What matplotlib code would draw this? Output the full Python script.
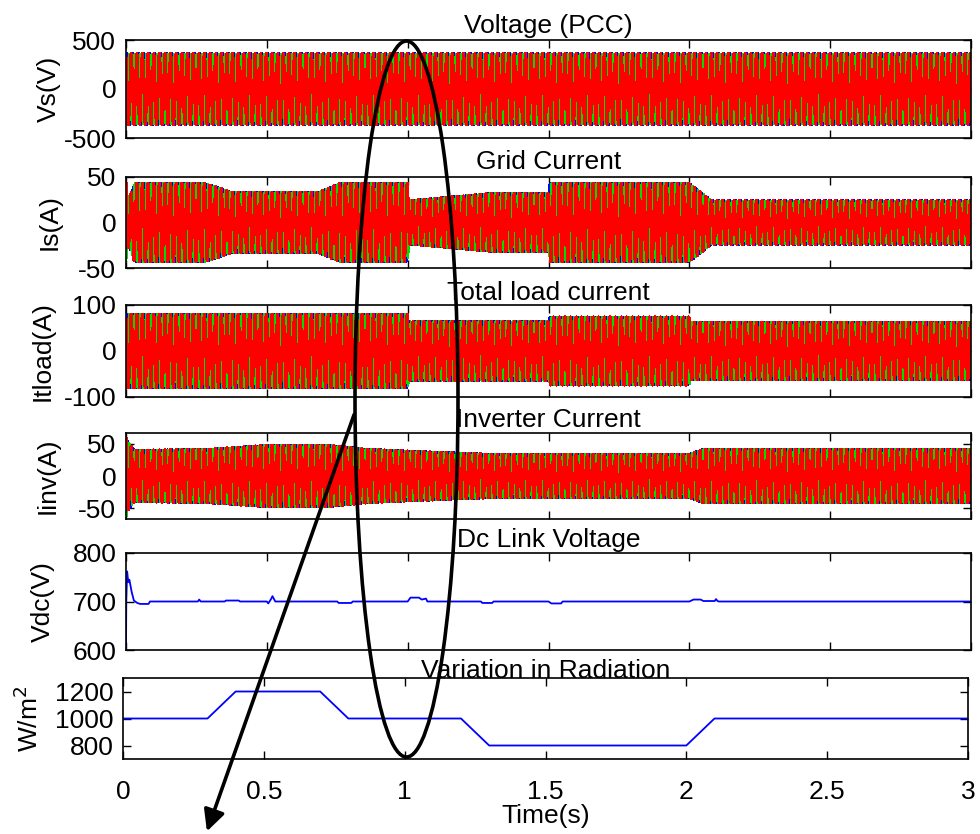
import numpy as np
import matplotlib
matplotlib.use("Agg")
import matplotlib.pyplot as plt
from matplotlib.patches import Ellipse, FancyArrowPatch

plt.rcParams['font.family'] = ['Liberation Sans', 'DejaVu Sans']
plt.rcParams['font.size'] = 19
plt.rcParams['axes.unicode_minus'] = False

# ---- data ----
f_grid = 50.0            # Hz
t_end = 3.0

# envelope breakpoints (time in s, peak amplitude) for the three-phase quantities
vs_t = [0.0, 3.0]
vs_amp = [360, 360]

is_t = [0.0, 0.003, 0.015, 0.03, 0.28, 0.38, 0.68, 0.76, 1.0, 1.005, 1.3, 1.5, 1.505, 2.0, 2.08, 3.0]
is_amp = [50, 25, 30, 43, 43, 33, 33, 43, 43, 24, 32, 32, 43, 43, 24, 24]

il_t = [0.0, 1.0, 1.005, 1.5, 1.505, 2.0, 2.005, 3.0]
il_amp = [80, 80, 64, 64, 74, 74, 63, 63]

ii_t = [0.0, 0.004, 0.03, 0.3, 0.5, 0.72, 0.85, 1.0, 1.3, 2.0, 2.05, 3.0]
ii_amp = [67, 55, 40, 42, 48, 48, 42, 39, 34, 34, 42, 42]

# dc link voltage
vdc_t = [0.0, 0.001, 0.004, 0.008, 0.012, 0.02, 0.028, 0.04, 0.05, 0.08, 0.085,
         0.255, 0.26, 0.265, 0.35, 0.355, 0.40, 0.405, 0.50, 0.505, 0.515, 0.52, 0.53, 0.54,
         0.75, 0.755, 0.80, 0.805, 1.0, 1.01, 1.04, 1.05, 1.065, 1.07,
         1.26, 1.265, 1.30, 1.305, 1.5, 1.51, 1.545, 1.55,
         2.0, 2.015, 2.04, 2.05, 2.07, 2.09, 2.095, 2.1, 2.105, 3.0]
vdc_v = [600, 700, 762, 740, 745, 720, 702, 697, 695, 695, 700,
         700, 704, 700, 700, 702, 702, 700, 700, 696, 705, 711, 700, 700,
         700, 697, 697, 700, 700, 708, 708, 704, 706, 700,
         700, 697, 697, 700, 700, 696, 696, 700,
         700, 704, 704, 701, 701, 701, 705, 701, 700, 700]

# solar radiation profile
rad_t = [0.0, 0.3, 0.4, 0.7, 0.8, 1.2, 1.3, 2.0, 2.1, 3.0]
rad_g = [1000, 1000, 1200, 1200, 1000, 1000, 800, 800, 1000, 1000]

titles = ['Voltage (PCC)', 'Grid Current', 'Total load current',
          'Inverter Current', 'Dc Link Voltage', 'Variation in Radiation']
ylabels = ['Vs(V)', 'Is(A)', 'Itload(A)', 'Iinv(A)', 'Vdc(V)', 'W/m$^2$']
ylims = [(-500, 500), (-50, 50), (-100, 100), (-67, 67), (600, 800), (700, 1300)]
yticks = [[-500, 0, 500], [-50, 0, 50], [-100, 0, 100], [-50, 0, 50],
          [600, 700, 800], [800, 1000, 1200]]

# ---- figure ----
W, H = 980, 834
fig = plt.figure(figsize=(W / 100, H / 100), dpi=100)

# axes boxes in pixels: left, top, right, bottom
boxes = [(126, 40, 971, 138), (126, 177, 971, 268), (126, 305, 971, 397),
         (126, 433, 971, 519), (126, 553, 971, 650), (123, 678, 968, 759)]
title_pads = [5, 6, 2, 4, 4, 0]
label_x = [61, 62, 55, 60, 55, 43]

t = np.linspace(0, t_end, int(t_end * f_grid * 40) + 1)
phase_cols = ['#0000ff', '#00dd00', '#ff0000']
phase_lw = [1.2, 1.0, 1.5]
shifts = [0, -2 * np.pi / 3, 2 * np.pi / 3]

wave_env = [(vs_t, vs_amp), (is_t, is_amp), (il_t, il_amp), (ii_t, ii_amp)]

axes = []
for i, (l, tp, r, b) in enumerate(boxes):
    ax = fig.add_axes([l / W, 1 - b / H, (r - l) / W, (b - tp) / H])
    axes.append(ax)
    if i < 4:
        env = np.interp(t, wave_env[i][0], wave_env[i][1])
        for c, s, w in zip(phase_cols, shifts, phase_lw):
            ax.plot(t, env * np.sin(2 * np.pi * f_grid * t + s), color=c, lw=w,
                    antialiased=False)
    elif i == 4:
        ax.plot(vdc_t, vdc_v, color='#0000ff', lw=1.3)
    else:
        ax.plot(rad_t, rad_g, color='#0000ff', lw=1.3)

    ax.set_xlim(0, t_end)
    ax.set_ylim(*ylims[i])
    ax.set_yticks(yticks[i])
    ax.set_xticks(np.arange(0, 3.01, 0.5))
    ax.tick_params(direction='in', length=6, width=1, top=True, right=True, pad=7)
    ax.tick_params(axis='x', pad=15)
    if i < 5:
        ax.set_xticklabels([])
    else:
        ax.set_xticklabels(['0', '0.5', '1', '1.5', '2', '2.5', '3'])
        ax.set_xlabel('Time(s)', labelpad=0)
    for sp in ax.spines.values():
        sp.set_linewidth(1.2)
    ax.set_title(titles[i], fontsize=19, pad=title_pads[i])
    ax.set_ylabel(ylabels[i])
    ax.yaxis.set_label_coords((label_x[i] - l) / (r - l), 0.5)

# ellipse highlighting the change at t = 1 s, and the arrow
ell = Ellipse((406.5 / W, 1 - 399 / H), 103 / W, 716 / H, transform=fig.transFigure,
              fill=False, edgecolor='black', lw=2.6, zorder=10)
fig.add_artist(ell)
arr = FancyArrowPatch((355 / W, 1 - 412 / H), (206 / W, 1 - 834 / H), transform=fig.transFigure,
                      arrowstyle='-|>', mutation_scale=32, color='black', lw=2.6, zorder=10)
fig.add_artist(arr)

fig.savefig('out.png', dpi=100)
